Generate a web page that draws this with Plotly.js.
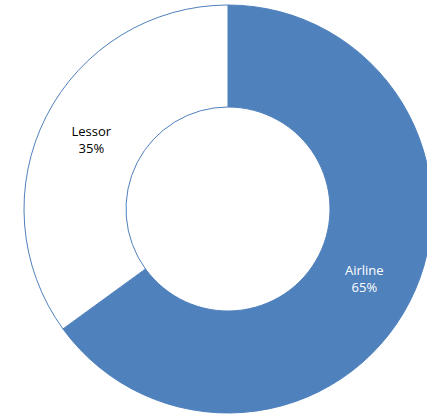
<!DOCTYPE html>
<html><head><meta charset="utf-8">
<script src="https://cdn.plot.ly/plotly-3.0.1.min.js"></script>
<style>html,body{margin:0;padding:0;overflow:hidden;background:#fff}</style>
</head><body>
<div id="chart" style="width:456px;height:414px"></div>
<script>
const labels = ["Airline", "Lessor"];
const values = [65, 35];
const fillColors = ["#4F81BD", "#FFFFFF"];
const textColors = ["#FFFFFF", "#000000"];

Plotly.newPlot("chart", [{
  type: "pie",
  labels: labels,
  values: values,
  hole: 0.5,
  sort: false,
  direction: "clockwise",
  rotation: 0,
  marker: {colors: fillColors, line: {color: "#4F81BD", width: 1}},
  textinfo: "label+percent",
  texttemplate: "%{label}<br>%{percent:.0%}",
  textposition: "inside",
  insidetextorientation: "horizontal",
  textfont: {family: "Open Sans, Liberation Sans, sans-serif", size: 13, color: textColors},
  domain: {x: [24/456, 432/456], y: [1/414, 409/414]},
  hoverinfo: "none"
}], {
  width: 456, height: 414,
  margin: {l: 0, r: 0, t: 0, b: 0},
  showlegend: false,
  paper_bgcolor: "#FFFFFF"
}, {displayModeBar: false, staticPlot: true});
</script>
</body></html>
